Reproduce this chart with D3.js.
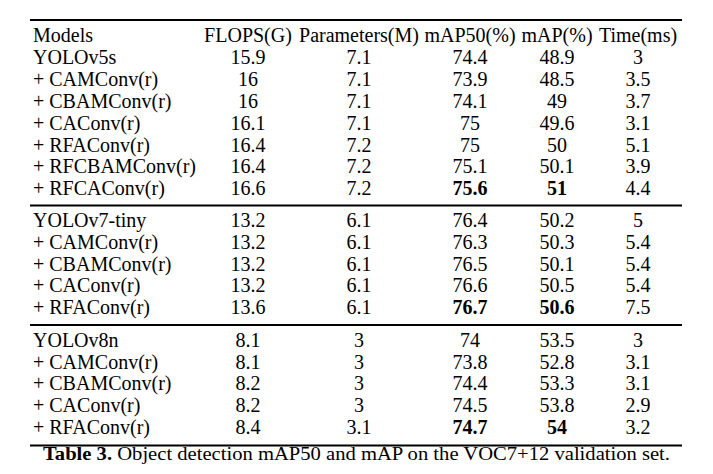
<!DOCTYPE html>
<html><head><meta charset="utf-8">
<script src="https://cdn.jsdelivr.net/npm/d3@7"></script>
<style>body{margin:0;background:#fff}</style>
</head><body>
<svg id="c" width="713" height="474"></svg>
<script>
const headers = ["Models","FLOPS(G)","Parameters(M)","mAP50(%)","mAP(%)","Time(ms)"];
const groupA = [
  ["YOLOv5s","15.9","7.1","74.4","48.9","3"],
  ["+ CAMConv(r)","16","7.1","73.9","48.5","3.5"],
  ["+ CBAMConv(r)","16","7.1","74.1","49","3.7"],
  ["+ CAConv(r)","16.1","7.1","75","49.6","3.1"],
  ["+ RFAConv(r)","16.4","7.2","75","50","5.1"],
  ["+ RFCBAMConv(r)","16.4","7.2","75.1","50.1","3.9"],
  ["+ RFCAConv(r)","16.6","7.2","75.6","51","4.4"]
];
const groupB = [
  ["YOLOv7-tiny","13.2","6.1","76.4","50.2","5"],
  ["+ CAMConv(r)","13.2","6.1","76.3","50.3","5.4"],
  ["+ CBAMConv(r)","13.2","6.1","76.5","50.1","5.4"],
  ["+ CAConv(r)","13.2","6.1","76.6","50.5","5.4"],
  ["+ RFAConv(r)","13.6","6.1","76.7","50.6","7.5"]
];
const groupC = [
  ["YOLOv8n","8.1","3","74","53.5","3"],
  ["+ CAMConv(r)","8.1","3","73.8","52.8","3.1"],
  ["+ CBAMConv(r)","8.2","3","74.4","53.3","3.1"],
  ["+ CAConv(r)","8.2","3","74.5","53.8","2.9"],
  ["+ RFAConv(r)","8.4","3.1","74.7","54","3.2"]
];
// bold cells: [group, row, col]
const boldCells = [["A",6,3],["A",6,4],["B",4,3],["B",4,4],["C",4,3],["C",4,4]];
const captionBold = "Table 3.";
const captionText = " Object detection mAP50 and mAP on the VOC7+12 validation set.";

const svg = d3.select("#c");
const font = "'Liberation Serif','Times New Roman',serif";
const colX = d3.scaleOrdinal().domain(headers).range([33,248,359,470,557,638]);
const rowH = 21.8;
const left = 30, right = 682;
const fs = 20;

function rule(y){
  svg.append("line").attr("x1",left).attr("x2",right).attr("y1",y).attr("y2",y)
    .attr("stroke","#000").attr("stroke-width",2);
}
function drawRows(rows, y0, gname){
  const y = d3.scaleLinear().domain([0,1]).range([y0, y0+rowH]);
  rows.forEach((r,i)=>{
    r.forEach((v,j)=>{
      const bold = boldCells.some(b=>b[0]===gname&&b[1]===i&&b[2]===j);
      svg.append("text").attr("x",colX(headers[j])).attr("y",y(i))
        .attr("text-anchor", j===0?"start":"middle")
        .attr("font-family",font).attr("font-size",fs)
        .attr("font-weight", bold?"bold":"normal")
        .attr("fill","#000").text(v);
    });
  });
}
rule(20);
headers.forEach((h,j)=>{
  svg.append("text").attr("x", colX(h)).attr("y",42.3)
    .attr("text-anchor", j===0?"start":"middle")
    .attr("font-family",font).attr("font-size",fs).attr("fill","#000").text(h);
});
drawRows(groupA, 64.3, "A");
rule(205.5);
drawRows(groupB, 227, "B");
rule(325);
drawRows(groupC, 346.7, "C");
rule(445.5);
const cap = svg.append("text").attr("x",43).attr("y",460).attr("text-anchor","start")
  .attr("font-family",font).attr("font-size",18).attr("fill","#000")
  .attr("textLength",627).attr("lengthAdjust","spacingAndGlyphs");
cap.append("tspan").attr("font-weight","bold").text(captionBold);
cap.append("tspan").text(captionText);
</script>
</body></html>
